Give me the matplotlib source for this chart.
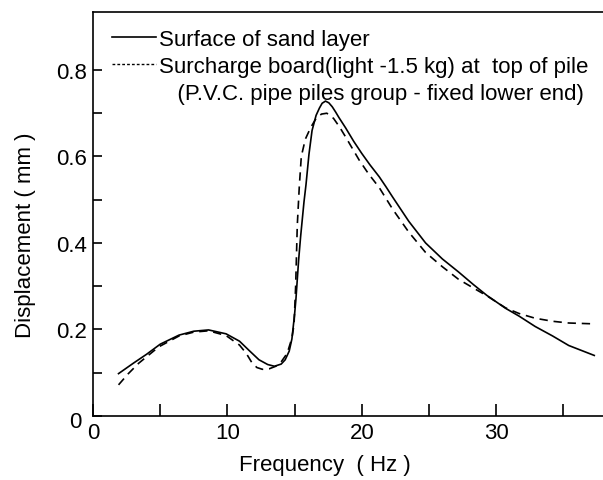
import matplotlib
matplotlib.use("Agg")
import matplotlib.pyplot as plt
from matplotlib.lines import Line2D
import matplotlib.transforms as mtrans

plt.rcParams['font.family'] = ['Liberation Sans', 'DejaVu Sans']

# ---- data ----
freq_surface = [1.9, 3.0, 4.0, 5.0, 6.4, 7.5, 8.6, 9.9, 10.9, 11.6, 12.35, 13.0,
                13.5, 14.0, 14.3, 14.6, 14.8, 15.0, 15.1, 15.3, 15.45, 15.7,
                15.85, 16.07, 16.3, 16.6, 16.85, 17.05, 17.3, 17.55, 17.8, 18.05,
                18.3, 18.8, 19.4, 20.0, 20.6, 21.3, 21.8, 22.3, 23.5, 24.75,
                26.0, 27.2, 28.3, 29.3, 30.7, 31.7, 32.9, 34.2, 35.4, 37.3]
disp_surface = [0.098, 0.122, 0.143, 0.166, 0.187, 0.196, 0.199, 0.190, 0.173,
                0.152, 0.130, 0.119, 0.115, 0.120, 0.130, 0.150, 0.178, 0.235,
                0.270, 0.360, 0.415, 0.495, 0.535, 0.605, 0.660, 0.695, 0.712,
                0.723, 0.728, 0.724, 0.715, 0.703, 0.690, 0.666, 0.635, 0.607,
                0.581, 0.553, 0.530, 0.506, 0.450, 0.400, 0.363, 0.333, 0.304,
                0.279, 0.249, 0.231, 0.207, 0.185, 0.163, 0.140]

freq_surcharge = [1.9, 2.6, 3.4, 4.9, 6.4, 7.5, 8.6, 9.9, 10.9, 11.4, 11.85, 12.2,
                  12.6, 13.1, 13.6, 14.0, 14.45, 14.8, 14.96, 15.08, 15.2, 15.35,
                  15.5, 15.8, 16.2, 16.6, 17.0, 17.4, 17.9, 18.35, 18.8, 19.8,
                  20.5, 21.3, 22.3, 23.5, 24.75, 26.0, 27.2, 28.3, 29.3, 30.7,
                  31.7, 32.9, 34.2, 35.4, 37.3]
disp_surcharge = [0.072, 0.097, 0.122, 0.160, 0.185, 0.194, 0.197, 0.186, 0.164,
                  0.145, 0.122, 0.112, 0.108, 0.109, 0.115, 0.125, 0.145, 0.180,
                  0.212, 0.300, 0.440, 0.530, 0.600, 0.640, 0.667, 0.688, 0.698,
                  0.700, 0.688, 0.668, 0.645, 0.592, 0.560, 0.528, 0.478, 0.425,
                  0.378, 0.345, 0.316, 0.296, 0.278, 0.250, 0.237, 0.226, 0.219,
                  0.215, 0.213]

x_ticks = [0, 5, 10, 15, 20, 25, 30, 35]
x_tick_labels = ['0', '', '10', '', '20', '', '30', '']
y_ticks = [0, 0.1, 0.2, 0.3, 0.4, 0.5, 0.6, 0.7, 0.8]
y_tick_labels = ['0', '', '0.2', '', '0.4', '', '0.6', '', '0.8']

legend_labels = ['Surface of sand layer',
                 'Surcharge board(light -1.5 kg) at  top of pile',
                 '   (P.V.C. pipe piles group - fixed lower end)']

FS = 16

fig = plt.figure(figsize=(6.03, 4.81), dpi=100)
ax = fig.add_axes([93 / 603, 64 / 481, 510 / 603, 404 / 481])

ax.plot(freq_surface, disp_surface, color='black', lw=1.2,
        solid_joinstyle='round')
ax.plot(freq_surcharge, disp_surcharge, color='black', lw=1.2,
        ls=(0, (5, 3.5)))

ax.set_xlim(0, 37.95)
ax.set_ylim(0, 0.934)

for side in ['left', 'bottom', 'top']:
    ax.spines[side].set_linewidth(1.2)
ax.spines['right'].set_visible(False)

ax.set_xticks(x_ticks)
ax.set_xticklabels(x_tick_labels)
ax.set_yticks(y_ticks)
ax.set_yticklabels(y_tick_labels)
ax.tick_params(direction='in', width=1.2, labelsize=FS, colors='black')
ax.tick_params(axis='x', length=8.6, pad=4)
ax.tick_params(axis='y', length=6.5, pad=4)

# shift the y "0" label a bit down-left as in the reference
lab0 = ax.get_yticklabels()[0]
lab0.set_transform(lab0.get_transform() +
                   mtrans.ScaledTranslation(-6 / 100, -3 / 100, fig.dpi_scale_trans))

ax.set_xlabel('Frequency  ( Hz )', fontsize=FS)
ax.xaxis.set_label_coords(0.455, -0.12)
ax.xaxis.label.set_va('center')
ax.set_ylabel('Displacement ( mm )', fontsize=FS)
ax.yaxis.set_label_coords(-0.133, 0.45)
ax.yaxis.label.set_va('center')

handles = [Line2D([], [], color='black', lw=1.2),
           Line2D([], [], color='black', lw=1.0, ls=(0, (2, 1.5))),
           Line2D([], [], color='none', lw=0)]
ax.legend(handles, legend_labels, loc='upper left',
          bbox_to_anchor=((112 - 93) / 510, (417 - 30) / 404),
          frameon=False, fontsize=FS, handlelength=2.0, handletextpad=0.1,
          labelspacing=0.26, borderpad=0, borderaxespad=0)

fig.savefig('out.png', dpi=100)
